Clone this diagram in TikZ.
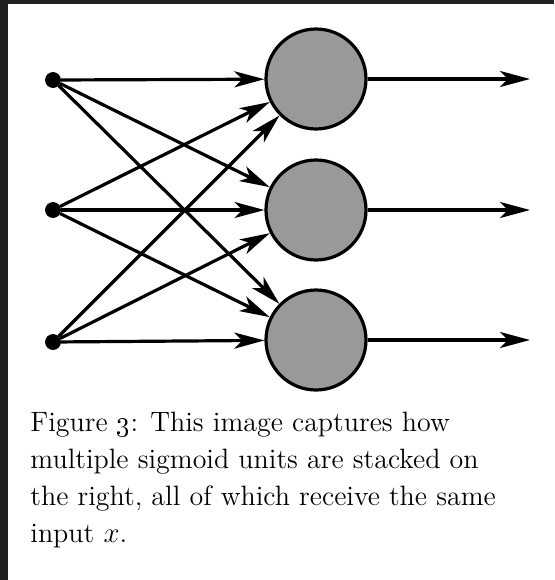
\documentclass[tikz,border=0pt]{standalone}
\usepackage{amsmath}
\usepackage{xcolor}
\usetikzlibrary{arrows.meta}
\definecolor{framegray}{HTML}{202020}
\definecolor{unitgray}{HTML}{999999}

\begin{document}
\begin{tikzpicture}[x=0.5pt, y=-0.5pt,
        input/.style={draw, fill=black, circle, inner sep=0pt, minimum size=7.5pt},
        unit/.style={draw, line width=1.6pt, circle, fill=unitgray, inner sep=0pt, minimum size=50pt},
        wire/.style={line width=1.6pt, -{Stealth[length=15pt, width=8pt, inset=4pt]}}]
    % frame
    \fill[framegray] (0,0) rectangle (554,580);
    \fill[white] (8,4) rectangle (554,580);
    \useasboundingbox (0,0) rectangle (554,580);
    % inputs and units
    \foreach \i/\y in {1/80, 2/210, 3/342} {
        \node[input] (x\i) at (53,\y) {};
    }
    \foreach \i/\y in {1/79, 2/210, 3/340} {
        \node[unit] (u\i) at (316,\y) {};
        \coordinate (o\i) at (530,\y);
    }
    % connections
    \foreach \i in {1,2,3} {
        \foreach \j in {1,2,3} {
            \draw[wire] (x\i) -- (u\j);
        }
        \draw[wire] (u\i) -- (o\i);
    }
    % caption
    \node[anchor=north west, inner sep=0pt, align=left, font=\fontsize{14}{18.5}\selectfont] (cap) at (30,412)
        {Figure \oldstylenums{3}: This image captures how\\
         multiple sigmoid units are stacked on\\
         the right, all of which receive the same\\
         input $x$.};
\end{tikzpicture}
\end{document}
